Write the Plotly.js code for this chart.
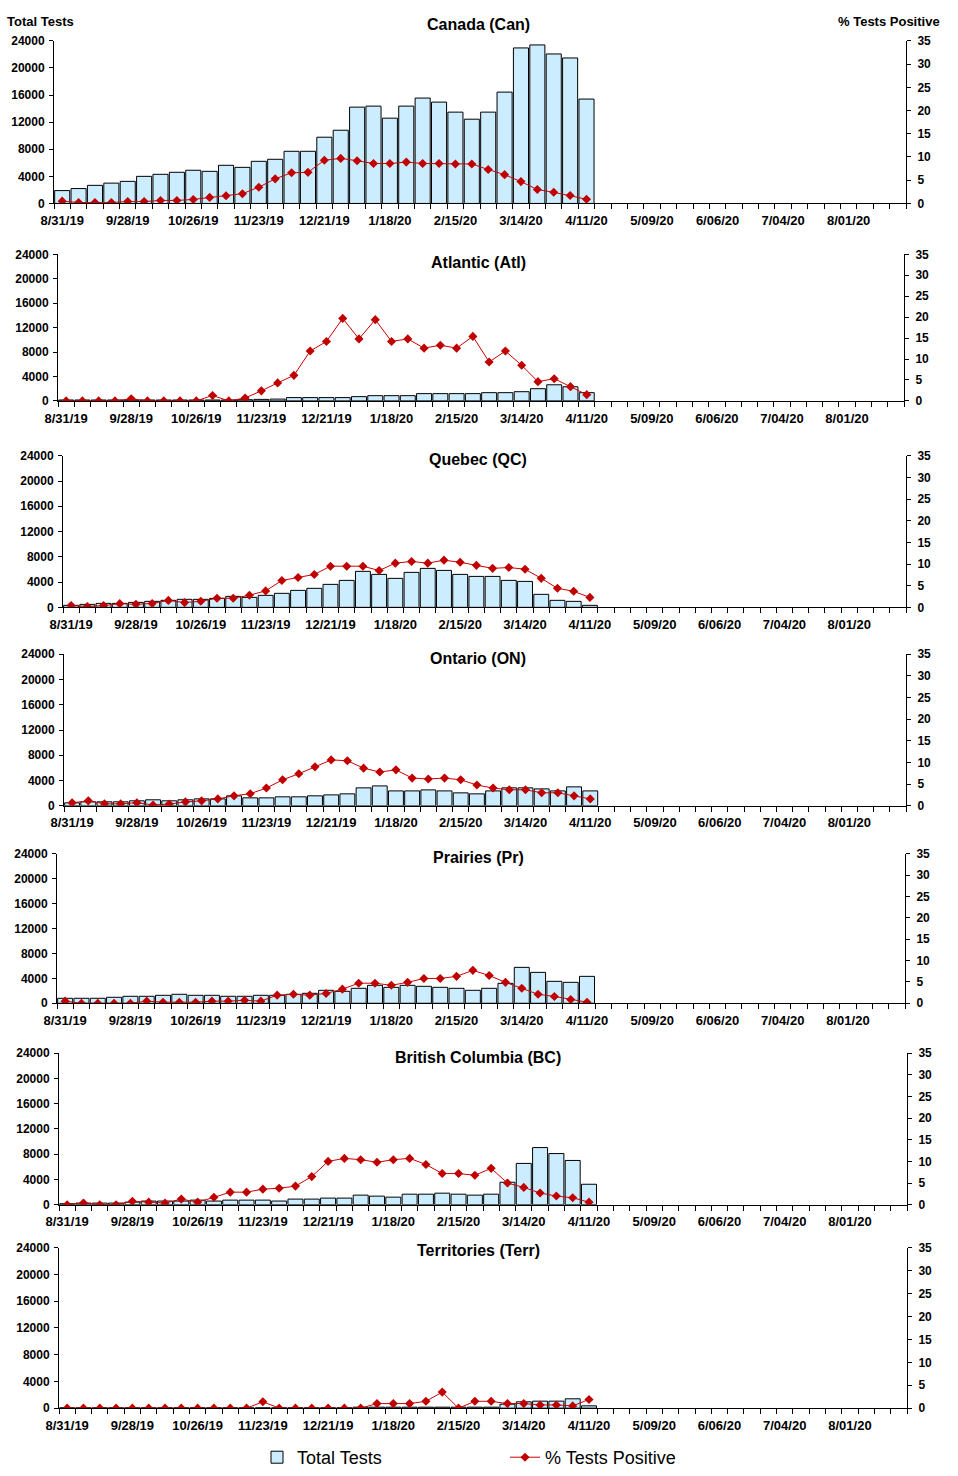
<!DOCTYPE html>
<html>
<head>
<meta charset="utf-8">
<script src="https://cdn.plot.ly/plotly-3.0.1.min.js"></script>
<style>html,body{margin:0;padding:0;background:#fff;}#chart{width:958px;height:1476px;}</style>
</head>
<body>
<div id="chart"></div>
<script>
// ---- Data ----
const tickLabels = ['8/31/19','9/28/19','10/26/19','11/23/19','12/21/19','1/18/20','2/15/20','3/14/20','4/11/20','5/09/20','6/06/20','7/04/20','8/01/20'];
const weekCount = 52;
const panelNames = ['Canada (Can)','Atlantic (Atl)','Quebec (QC)','Ontario (ON)','Prairies (Pr)','British Columbia (BC)','Territories (Terr)'];

const canadaTests = [1900,2200,2670,3000,3260,4000,4300,4600,4900,4740,5630,5330,6220,6520,7700,7700,9780,10810,14220,14370,12590,14370,15560,14960,13480,12440,13480,16440,22960,23400,22070,21480,15410];
const canadaPos = [0.5,0.2,0.2,0.2,0.4,0.4,0.65,0.65,0.86,1.3,1.66,2.1,3.5,5.3,6.6,6.7,9.3,9.7,9.2,8.6,8.6,8.9,8.6,8.6,8.5,8.5,7.3,6.2,4.7,3.0,2.4,1.7,0.9];

const atlTests = [150,150,150,150,150,150,150,150,150,150,150,200,250,300,540,540,540,540,700,860,860,860,1190,1190,1190,1190,1350,1350,1510,2000,2640,2320,1350];
const atlPos = [0,0,0,0,0.5,0,0,0,0,1.3,0,0.7,2.4,4.3,6.1,11.9,14.2,19.7,14.8,19.4,14.2,14.8,12.6,13.3,12.6,15.4,9.3,11.9,8.5,4.6,5.3,3.4,1.5];

const qcTests = [320,470,630,630,790,950,1110,1270,1270,1420,1740,1580,1900,2220,2690,3010,3640,4270,5700,5220,4590,5540,6170,5850,5220,4900,4900,4270,4110,2060,1110,950,320];
const qcPos = [0.4,0.2,0.4,0.85,0.7,0.9,1.6,1.1,1.4,2.1,2.1,2.8,3.8,6.2,6.9,7.6,9.5,9.5,9.5,8.5,10.2,10.6,10.2,10.9,10.4,9.7,9.0,9.2,8.8,6.7,4.4,3.7,2.3];

const onTests = [470,630,630,630,790,950,790,950,1100,1100,1580,1260,1260,1420,1420,1580,1730,1890,2840,3150,2360,2360,2520,2360,2050,1890,2360,2840,2840,2680,2360,3000,2360];
const onPos = [0.7,1.15,0.45,0.45,0.7,0.2,0.4,0.9,1.15,1.6,2.3,2.8,4.1,6.0,7.4,9.0,10.6,10.4,8.7,7.8,8.3,6.4,6.2,6.4,6.0,4.8,4.1,3.7,3.7,3.0,3.0,2.3,1.6];

const prTests = [800,800,800,960,1120,1120,1280,1440,1280,1280,1120,1120,1280,1280,1440,1600,2080,1920,2400,2880,2560,2880,2720,2560,2400,2080,2400,3200,5760,4960,3520,3360,4320];
const prPos = [0.5,0,0,0,0,0.5,0.25,0.25,0.25,0.5,0.5,0.7,0.5,1.9,2.1,1.9,2.3,3.3,4.7,4.7,4.2,4.9,5.8,5.8,6.3,7.7,6.5,4.9,3.5,2.1,1.6,0.9,0.25];

const bcTests = [160,260,260,260,420,580,580,580,730,580,730,730,730,580,890,890,1050,1050,1520,1360,1200,1670,1670,1830,1670,1520,1670,3560,6540,9050,8100,7010,3240];
const bcPos = [0,0.4,0,0,0.8,0.6,0.4,1.3,0.6,1.7,2.9,2.9,3.6,3.8,4.3,6.5,10.0,10.7,10.4,9.8,10.4,10.7,9.3,7.2,7.2,6.8,8.4,5.0,4.0,2.7,2.0,1.6,0.6];

const terrTests = [50,50,50,50,50,50,50,50,50,50,50,50,50,50,50,50,50,50,150,150,150,150,150,150,150,150,150,600,950,1050,1050,1400,350];
const terrPos = [0,0,0,0,0,0,0,0,0,0,0,0,1.4,0,0,0,0,0,0,1.0,1.0,1.0,1.5,3.5,0,1.5,1.5,1.0,1.0,0.7,0.7,0.5,1.9];

const testsSeries = [canadaTests, atlTests, qcTests, onTests, prTests, bcTests, terrTests];
const posSeries = [canadaPos, atlPos, qcPos, onPos, prPos, bcPos, terrPos];

// ---- Layout geometry (pixels) ----
const W = 958, H = 1476;
const boxes = [[54,906,41,204],[58,904,255,402],[63,906,457,609],[64,906,656,808],[57,905,856,1006],[59,907,1056,1208],[59,907,1251,1412]];
const titleY = [25,263,461,660,860,1060,1254];

const FONT = 'Liberation Sans, Arial, sans-serif';
const tickFont = {family: FONT, size: 12, color: '#000', weight: 'bold'};
const xTickFont = {family: FONT, size: 13, color: '#000', weight: 'bold'};
const barColor = '#CCECFF';
const lineColor = '#CC0000';

const traces = [];
const layout = {
  width: W, height: H,
  margin: {l: 0, r: 0, t: 0, b: 0},
  paper_bgcolor: '#fff', plot_bgcolor: 'rgba(0,0,0,0)',
  bargap: 0.08,
  showlegend: true,
  legend: {orientation: 'h', x: 257/W, xanchor: 'left', y: 1 - 1443/H, yanchor: 'top',
           font: {family: FONT, size: 18, color: '#000'}, entrywidth: 203, entrywidthmode: 'pixels',
           bgcolor: 'rgba(0,0,0,0)'},
  annotations: [],
  font: {family: FONT, color: '#000'}
};

// tick marks at category boundaries (main axis); labels every 4th category centre (overlay axis)
const boundaryVals = [];
for (let k = 0; k <= weekCount; k++) boundaryVals.push(k - 0.5);
const labelVals = tickLabels.map((_, i) => i * 4);

for (let p = 0; p < 7; p++) {
  const xi = p + 1, xl = p + 8, yi1 = 2 * p + 1, yi2 = 2 * p + 2;
  const xid = xi === 1 ? 'x' : 'x' + xi;
  const xlid = 'x' + xl;
  const y1id = yi1 === 1 ? 'y' : 'y' + yi1;
  const y2id = 'y' + yi2;
  const [l, r, t, b] = boxes[p];
  const xdom = [l / W, r / W];
  const ydom = [1 - b / H, 1 - t / H];
  const xs = testsSeries[p].map((_, i) => i);

  traces.push({
    type: 'bar', x: xs, y: testsSeries[p], xaxis: xid, yaxis: y1id,
    name: 'Total Tests', showlegend: p === 0, legendgroup: 'tests',
    marker: {color: barColor, line: {color: '#000', width: 1}},
    hoverinfo: 'skip'
  });
  traces.push({
    type: 'scatter', mode: 'lines+markers', x: xs, y: posSeries[p], xaxis: xid, yaxis: y2id,
    name: '% Tests Positive', showlegend: p === 0, legendgroup: 'pos',
    line: {color: lineColor, width: 1},
    marker: {symbol: 'diamond', size: 7, color: '#C00000'},
    hoverinfo: 'skip'
  });
  // empty carrier so the label axis is drawn
  traces.push({
    type: 'scatter', mode: 'markers', x: [], y: [], xaxis: xlid, yaxis: y1id,
    showlegend: false, hoverinfo: 'skip'
  });

  layout['xaxis' + (xi === 1 ? '' : xi)] = {
    domain: xdom, anchor: y1id, range: [-0.5, weekCount - 0.5],
    tickmode: 'array', tickvals: boundaryVals, showticklabels: false,
    ticks: 'outside', ticklen: 5, tickcolor: '#000', tickwidth: 1,
    showline: true, linecolor: '#000', linewidth: 1,
    showgrid: false, zeroline: false, fixedrange: true
  };
  layout['xaxis' + xl] = {
    domain: xdom, anchor: y1id, overlaying: xid, side: 'bottom', range: [-0.5, weekCount - 0.5],
    tickmode: 'array', tickvals: labelVals, ticktext: tickLabels, tickangle: 0,
    ticks: 'outside', ticklen: 5, tickcolor: 'rgba(0,0,0,0)',
    tickfont: xTickFont, showline: false,
    showgrid: false, zeroline: false, fixedrange: true
  };
  layout['yaxis' + (yi1 === 1 ? '' : yi1)] = {
    domain: ydom, anchor: xid, range: [0, 24000],
    tickmode: 'linear', tick0: 0, dtick: 4000, tickformat: 'd',
    ticks: 'outside', ticklen: 4, tickcolor: '#000', ticklabelstandoff: 2,
    tickfont: tickFont, showline: true, linecolor: '#000', linewidth: 1,
    showgrid: false, zeroline: false, fixedrange: true
  };
  layout['yaxis' + yi2] = {
    domain: ydom, anchor: xid, overlaying: y1id, side: 'right', range: [0, 35],
    tickmode: 'linear', tick0: 0, dtick: 5,
    ticks: 'outside', ticklen: 4, tickcolor: '#000', ticklabelstandoff: 4,
    tickfont: tickFont, showline: true, linecolor: '#000', linewidth: 1,
    showgrid: false, zeroline: false, fixedrange: true
  };
  layout.annotations.push({
    text: panelNames[p], xref: 'paper', yref: 'paper', x: 478 / W, y: 1 - titleY[p] / H,
    xanchor: 'center', yanchor: 'middle', showarrow: false,
    font: {family: FONT, size: 16, color: '#000', weight: 'bold'}
  });
}

layout.annotations.push({
  text: 'Total Tests', xref: 'paper', yref: 'paper', x: 5 / W, y: 1 - 22 / H,
  xanchor: 'left', yanchor: 'middle', showarrow: false,
  font: {family: FONT, size: 13, color: '#000', weight: 'bold'}
});
layout.annotations.push({
  text: '% Tests Positive', xref: 'paper', yref: 'paper', x: 942 / W, y: 1 - 22 / H,
  xanchor: 'right', yanchor: 'middle', showarrow: false,
  font: {family: FONT, size: 13, color: '#000', weight: 'bold'}
});

Plotly.newPlot('chart', traces, layout, {displayModeBar: false, staticPlot: true});
</script>
</body>
</html>
